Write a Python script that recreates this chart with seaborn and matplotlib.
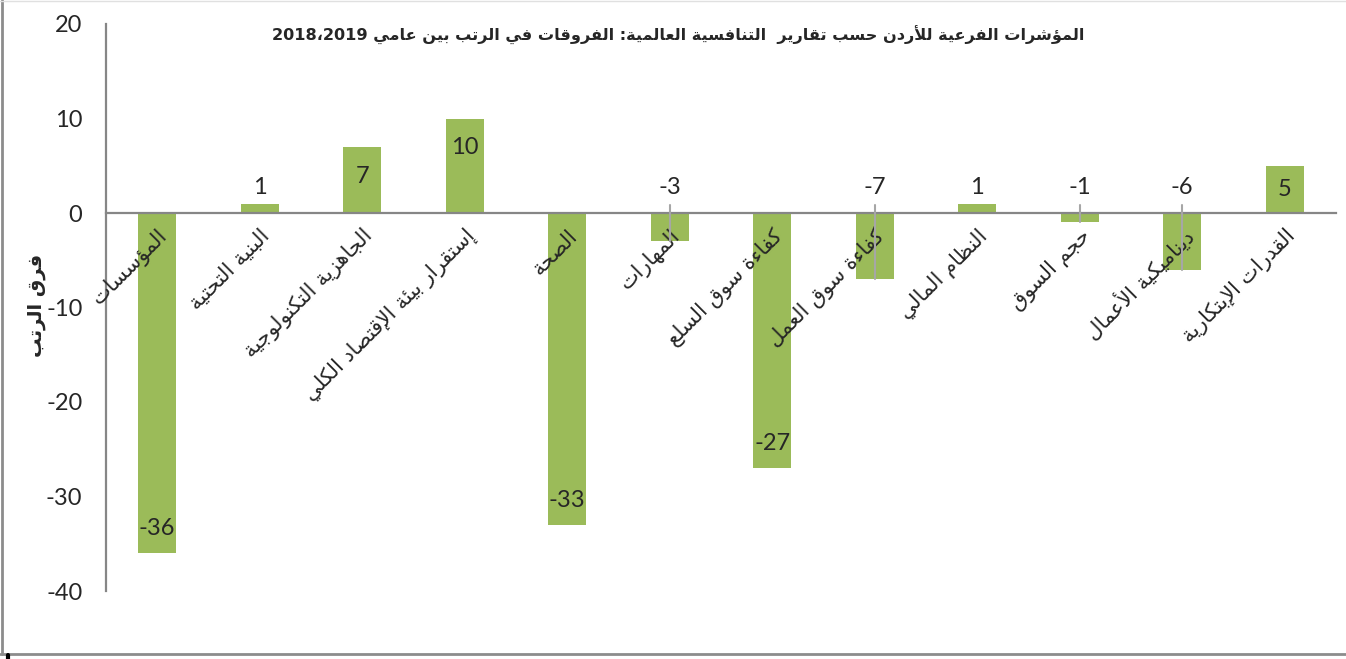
import numpy as np
import pandas as pd
import seaborn as sns
import matplotlib.pyplot as plt
from matplotlib.lines import Line2D

# categories in logical (reading) order, left to right on the chart
categories = ['المؤسسات', 'البنية التحتية', 'الجاهزية التكنولوجية',
              'إستقرار بيئة الإقتصاد الكلي', 'الصحة', 'المهارات',
              'كفاءة سوق السلع', 'كفاءة سوق العمل', 'النظام المالي',
              'حجم السوق', 'ديناميكية الأعمال', 'القدرات الإبتكارية']
rank_diff = [-36, 1, 7, 10, -33, -3, -27, -7, 1, -1, -6, 5]

title_text = 'المؤشرات الفرعية للأردن حسب تقارير  التنافسية العالمية: الفروقات في الرتب بين عامي'
title_years = '2018،2019'
y_title = 'فرق الرتب'

# where each data label sits: inside end, above axis, above axis with leader line, mid bar
label_mode = ['end', 'above', 'end', 'end', 'end', 'lead',
              'end', 'lead', 'above', 'lead', 'lead', 'mid']

BAR_COLOR = '#9BBB59'
AXIS_COLOR = '#868686'

# --- minimal arabic shaping (matplotlib has no complex text layout) ---
# letter -> (isolated presentation form, number of forms)
FORMS = {'ء': (0xFE80, 1), 'آ': (0xFE81, 2), 'أ': (0xFE83, 2), 'ؤ': (0xFE85, 2),
         'إ': (0xFE87, 2), 'ئ': (0xFE89, 4), 'ا': (0xFE8D, 2), 'ب': (0xFE8F, 4),
         'ة': (0xFE93, 2), 'ت': (0xFE95, 4), 'ث': (0xFE99, 4), 'ج': (0xFE9D, 4),
         'ح': (0xFEA1, 4), 'خ': (0xFEA5, 4), 'د': (0xFEA9, 2), 'ذ': (0xFEAB, 2),
         'ر': (0xFEAD, 2), 'ز': (0xFEAF, 2), 'س': (0xFEB1, 4), 'ش': (0xFEB5, 4),
         'ص': (0xFEB9, 4), 'ض': (0xFEBD, 4), 'ط': (0xFEC1, 4), 'ظ': (0xFEC5, 4),
         'ع': (0xFEC9, 4), 'غ': (0xFECD, 4), 'ف': (0xFED1, 4), 'ق': (0xFED5, 4),
         'ك': (0xFED9, 4), 'ل': (0xFEDD, 4), 'م': (0xFEE1, 4), 'ن': (0xFEE5, 4),
         'ه': (0xFEE9, 4), 'و': (0xFEED, 2), 'ى': (0xFEEF, 2), 'ي': (0xFEF1, 4)}
LAM_ALEF = {'آ': 0xFEF5, 'أ': 0xFEF7, 'إ': 0xFEF9, 'ا': 0xFEFB}


def rtl(text):
    """Shape arabic letters and return the string in visual (left to right) order."""
    tokens = []
    i = 0
    while i < len(text):
        if text[i] == 'ل' and i + 1 < len(text) and text[i + 1] in LAM_ALEF:
            tokens.append(('LA', text[i + 1]))
            i += 2
        else:
            tokens.append(text[i])
            i += 1

    def joinable(t):
        return isinstance(t, tuple) or (t in FORMS and FORMS[t][1] > 1)

    def dual(t):
        return not isinstance(t, tuple) and t in FORMS and FORMS[t][1] == 4

    out = []
    for j, t in enumerate(tokens):
        prev = tokens[j - 1] if j > 0 else None
        nxt = tokens[j + 1] if j + 1 < len(tokens) else None
        jp = prev is not None and dual(prev) and joinable(t)
        if isinstance(t, tuple):
            out.append(chr(LAM_ALEF[t[1]] + (1 if jp else 0)))
            continue
        if t not in FORMS:
            out.append(t)
            continue
        base, n = FORMS[t]
        jn = n == 4 and nxt is not None and joinable(nxt)
        if n == 1:
            idx = 0
        elif n == 2:
            idx = 1 if jp else 0
        else:
            idx = 3 if (jp and jn) else 1 if jp else 2 if jn else 0
        out.append(chr(base + idx))
    return ''.join(reversed(out))


sns.set_style('white')
plt.rcParams['font.family'] = ['DejaVu Sans']
plt.rcParams['axes.unicode_minus'] = False

fig = plt.figure(figsize=(13.46, 6.59), dpi=100)
ax = fig.add_axes([106 / 1346, 1 - 591 / 659, 1230 / 1346, 567 / 659])

df = pd.DataFrame({'category': [rtl(c) for c in categories], 'rank_diff': rank_diff})
sns.barplot(data=df, x='category', y='rank_diff', color=BAR_COLOR, saturation=1,
            width=0.37, linewidth=0, ax=ax)

ax.set_axisbelow(False)  # category labels are drawn over the bars
ax.set_xlim(-0.5, len(categories) - 0.5)
ax.set_ylim(-40, 20)
ax.set_yticks(np.arange(-40, 21, 10))
ax.set_xlabel('')
ax.set_ylabel('')

for side in ['top', 'right']:
    ax.spines[side].set_visible(False)
ax.spines['bottom'].set_position(('data', 0))
for side in ['bottom', 'left']:
    ax.spines[side].set_color(AXIS_COLOR)
    ax.spines[side].set_linewidth(1.6)

ax.tick_params(axis='x', length=0, pad=9, labelsize=15)
ax.tick_params(axis='y', length=0, pad=17, labelsize=17)
plt.setp(ax.get_xticklabels(), rotation=45, ha='right', rotation_mode='anchor')
for lbl in ax.get_yticklabels():
    lbl.set_fontfamily(['Lato', 'DejaVu Sans'])

# data labels
for i, (v, mode) in enumerate(zip(rank_diff, label_mode)):
    if mode == 'end':
        y = v - 3.1 if v > 0 else v + 2.6
    elif mode == 'mid':
        y = v / 2
    else:
        y = 2.7
    if mode == 'lead':
        ax.plot([i, i], [0.8, v], color='#A6A6A6', lw=1.5, zorder=3)
    ax.text(i, y, str(v), ha='center', va='center', fontsize=17,
            family=['Lato', 'DejaVu Sans'], zorder=4)

fig.text(678 / 1346, 1 - 35 / 659, title_years + ' ' + rtl(title_text),
         ha='center', va='center', fontsize=11.6, fontweight='bold')
fig.text(36 / 1346, 1 - 305 / 659, rtl(y_title), rotation=90,
         ha='center', va='center', fontsize=14, fontweight='bold')

# chart area border (left and bottom visible, top faint)
fig.add_artist(Line2D([1.5 / 1346] * 2, [1 - 653.5 / 659, 1], transform=fig.transFigure,
                      color='#8C8C8C', lw=2))
fig.add_artist(Line2D([0, 1], [1 - 653.5 / 659] * 2, transform=fig.transFigure,
                      color='#8C8C8C', lw=2))
fig.add_artist(Line2D([0, 1], [1 - 0.5 / 659] * 2, transform=fig.transFigure,
                      color='#E0E0E0', lw=1))
fig.add_artist(Line2D([8 / 1346] * 2, [0, 4 / 659], transform=fig.transFigure,
                      color='black', lw=3))

fig.savefig('out.png', dpi=100)
